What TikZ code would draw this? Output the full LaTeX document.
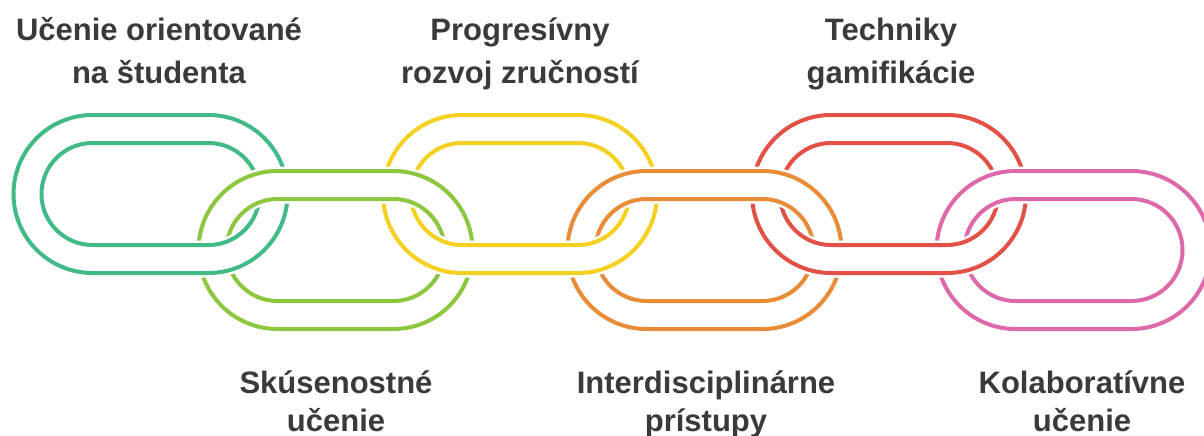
\documentclass[tikz,border=0pt]{standalone}
\usepackage{fontspec}
\setmainfont{Liberation Sans}
\definecolor{cgreen}{RGB}{66,186,134}
\definecolor{clime}{RGB}{141,198,63}
\definecolor{cyellow}{RGB}{244,208,32}
\definecolor{corange}{RGB}{232,140,55}
\definecolor{cred}{RGB}{226,80,70}
\definecolor{cpink}{RGB}{222,105,170}
\definecolor{textgray}{RGB}{58,58,58}
\tikzset{
  lbl/.style={font=\bfseries\fontsize{31}{37}\selectfont, text=textgray, anchor=base, inner sep=0pt},
  halo/.style={white, line width=9pt},
  ring/.style={line width=4pt},
}
\newcommand{\chainlink}[3]{%
  \begin{scope}[shift={(#1,#2)}]
    \fill[white, even odd rule] [rounded corners=79pt] (-137,-79) rectangle (137,79)
      [rounded corners=51pt] (-109,-51) rectangle (109,51);
    \draw[halo, rounded corners=79pt] (-137,-79) rectangle (137,79);
    \draw[halo, rounded corners=51pt] (-109,-51) rectangle (109,51);
    \draw[ring, draw=#3, rounded corners=79pt] (-137,-79) rectangle (137,79);
    \draw[ring, draw=#3, rounded corners=51pt] (-109,-51) rectangle (109,51);
  \end{scope}%
}
\begin{document}
\begin{tikzpicture}[x=1pt, y=-1pt]
\useasboundingbox (0,0) rectangle (1204,436);
\clip (0,0) rectangle (1204,436);
% lower links
\chainlink{335.5}{250}{clime}
\chainlink{704.5}{250}{corange}
\chainlink{1073.5}{250}{cpink}
% upper links
\chainlink{150.5}{194}{cgreen}
\chainlink{520}{194}{cyellow}
\chainlink{889}{194}{cred}
% lower links' top parts lie over the upper links
\begin{scope}
  \clip (0,0) rectangle (1204,222);
  \chainlink{335.5}{250}{clime}
  \chainlink{704.5}{250}{corange}
  \chainlink{1073.5}{250}{cpink}
\end{scope}
% labels
\node[lbl] (t1a) at (159,41) {Učenie orientované};
\node[lbl] (t1b) at (159,83) {na študenta};
\node[lbl] (t2a) at (520,41) {Progresívny};
\node[lbl] (t2b) at (520,83) {rozvoj zručností};
\node[lbl] (t3a) at (891,41) {Techniky};
\node[lbl] (t3b) at (891,83) {gamifikácie};
\node[lbl] (b1a) at (336,393) {Skúsenostné};
\node[lbl] (b1b) at (336,431) {učenie};
\node[lbl] (b2a) at (706,393) {Interdisciplinárne};
\node[lbl] (b2b) at (706,431) {prístupy};
\node[lbl] (b3a) at (1082,393) {Kolaboratívne};
\node[lbl] (b3b) at (1082,431) {učenie};
\end{tikzpicture}
\end{document}
